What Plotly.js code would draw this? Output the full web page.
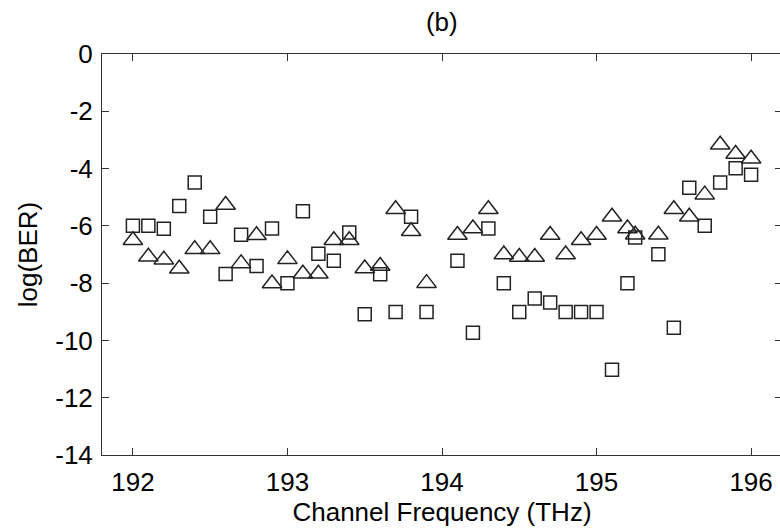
<!DOCTYPE html>
<html>
<head>
<meta charset="utf-8">
<script src="https://cdn.plot.ly/plotly-3.0.1.min.js"></script>
<style>
html,body{margin:0;padding:0;overflow:hidden;background:#fff;}
#chart{width:782px;height:530px;}
</style>
</head>
<body>
<div id="chart"></div>
<script>
// Channel frequencies (THz)
var freq = [192.0,192.1,192.2,192.3,192.4,192.5,192.6,192.7,192.8,192.9,
            193.0,193.1,193.2,193.3,193.4,193.5,193.6,193.7,193.8,193.9,
            194.1,194.2,194.3,194.4,194.5,194.6,194.7,194.8,194.9,195.0,
            195.1,195.2,195.25,195.4,195.5,195.6,195.7,195.8,195.9,196.0];
// log(BER), square markers
var berSquare = [-6.0,-6.0,-6.1,-5.31,-4.49,-5.68,-7.68,-6.31,-7.40,-6.09,
                 -8.0,-5.49,-6.97,-7.22,-6.23,-9.09,-7.69,-9.01,-5.68,-9.01,
                 -7.22,-9.73,-6.09,-8.0,-9.01,-8.54,-8.68,-9.01,-9.01,-9.01,
                 -11.02,-8.0,-6.41,-6.99,-9.56,-4.67,-6.0,-4.49,-3.99,-4.22];
// log(BER), triangle markers
var berTriangle = [-6.5,-7.08,-7.18,-7.5,-6.82,-6.82,-5.27,-7.31,-6.33,-8.01,
                   -7.17,-7.67,-7.67,-6.5,-6.5,-7.49,-7.4,-5.42,-6.19,-8.0,
                   -6.32,-6.09,-5.42,-7.0,-7.09,-7.09,-6.32,-7.0,-6.5,-6.32,
                   -5.68,-6.09,-6.31,-6.31,-5.42,-5.68,-4.91,-3.17,-3.49,-3.66];
var xTicks = [192,193,194,195,196];
var yTicks = [0,-2,-4,-6,-8,-10,-12,-14];

var font = {family:'"Liberation Sans", Arial, sans-serif', size:26, color:'#000'};

var traces = [
  {x:freq, y:berSquare, type:'scatter', mode:'markers', name:'square',
   marker:{symbol:'square-open', size:13, color:'#222', line:{width:1.5, color:'#222'}}},
  {x:freq, y:berTriangle, type:'scatter', mode:'markers', name:'triangle',
   marker:{symbol:'triangle-up-open', size:17, color:'#222', line:{width:1.5, color:'#222'}}}
];

var layout = {
  width:782, height:530,
  margin:{l:102, r:0, t:54, b:75},
  paper_bgcolor:'#fff', plot_bgcolor:'#fff',
  showlegend:false,
  font:font,
  title:{text:'(b)', font:font, x:0.565, xanchor:'center', y:1-22/530, yanchor:'middle', xref:'container', yref:'container'},
  xaxis:{
    range:[191.8,196.2], tickvals:xTicks, ticktext:xTicks.map(String),
    ticks:'inside', ticklen:7, tickwidth:1, tickcolor:'#333',
    showline:true, linecolor:'#333', linewidth:1, mirror:'ticks',
    showgrid:false, zeroline:false, tickfont:font, ticklabelstandoff:4,
    title:{text:'Channel Frequency (THz)', font:font, standoff:0}
  },
  yaxis:{
    range:[-14,0], tickvals:yTicks, ticktext:yTicks.map(String),
    ticks:'inside', ticklen:7, tickwidth:1, tickcolor:'#333',
    showline:true, linecolor:'#333', linewidth:1, mirror:'ticks',
    showgrid:false, zeroline:false, tickfont:font, ticklabelstandoff:3,
    title:{text:'log(BER)', font:font, standoff:10}
  }
};

Plotly.newPlot('chart', traces, layout, {displayModeBar:false, staticPlot:true});
</script>
</body>
</html>
